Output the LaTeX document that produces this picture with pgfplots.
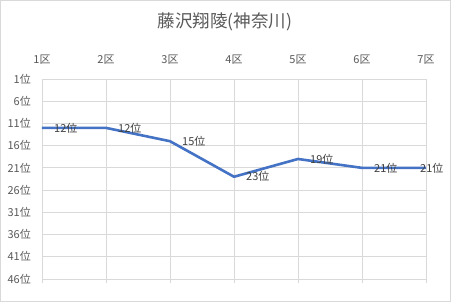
\documentclass[border=0pt]{standalone}
\usepackage{pgfplots}
\pgfplotsset{compat=1.18}
\usepackage{fontspec}
\setmainfont{Noto Sans CJK JP}
\definecolor{gridc}{HTML}{D9D9D9}
\definecolor{txtc}{HTML}{595959}
\definecolor{lblc}{HTML}{404040}
\definecolor{linec}{HTML}{4472C4}
\begin{document}
\begin{tikzpicture}
\useasboundingbox (0,0) rectangle (452bp,-302bp);
\draw[gridc, line width=0.75bp] (0.4bp,-0.4bp) rectangle (450.5bp,-301.4bp);
\node[text=txtc, font=\fontsize{17.5bp}{20bp}\selectfont] at (225bp,-22bp) {藤沢翔陵(神奈川)};
\begin{axis}[
  at={(42bp,-79bp)}, anchor=north west,
  scale only axis, width=384bp, height=204.4bp,
  xmin=1, xmax=7, ymin=1, ymax=47, y dir=reverse,
  clip=false,
  axis line style={draw=none},
  major tick length=0pt,
  xtick={1,2,3,4,5,6,7},
  xticklabels={1区,2区,3区,4区,5区,6区,7区},
  xticklabel pos=upper,
  ytick={1,6,11,16,21,26,31,36,41,46},
  yticklabels={1位,6位,11位,16位,21位,26位,31位,36位,41位,46位},
  ticklabel style={text=txtc, font=\fontsize{11bp}{13bp}\selectfont, inner sep=0pt},
  xticklabel style={yshift=14bp},
  yticklabel style={xshift=-11bp},
  grid=major,
  major grid style={gridc, line width=0.75bp},
]
\addplot[linec, line width=2.6bp, line join=round, no marks] coordinates {
 (1,12) (2,12) (3,15) (4,23) (5,19) (6,21) (7,21)};
\addplot[draw=none, no marks, point meta=explicit symbolic, nodes near coords,
  every node near coord/.style={anchor=west, inner sep=0pt, xshift=12bp, text=lblc, font=\fontsize{11bp}{13bp}\selectfont}]
 coordinates {(1,12)[12位] (2,12)[12位] (3,15)[15位] (4,23)[23位] (5,19)[19位] (6,21)[21位]};
\addplot[draw=none, no marks, point meta=explicit symbolic, nodes near coords,
  every node near coord/.style={anchor=west, inner sep=0pt, xshift=-6bp, text=lblc, font=\fontsize{11bp}{13bp}\selectfont}]
 coordinates {(7,21)[21位]};
\end{axis}
\end{tikzpicture}
\end{document}
